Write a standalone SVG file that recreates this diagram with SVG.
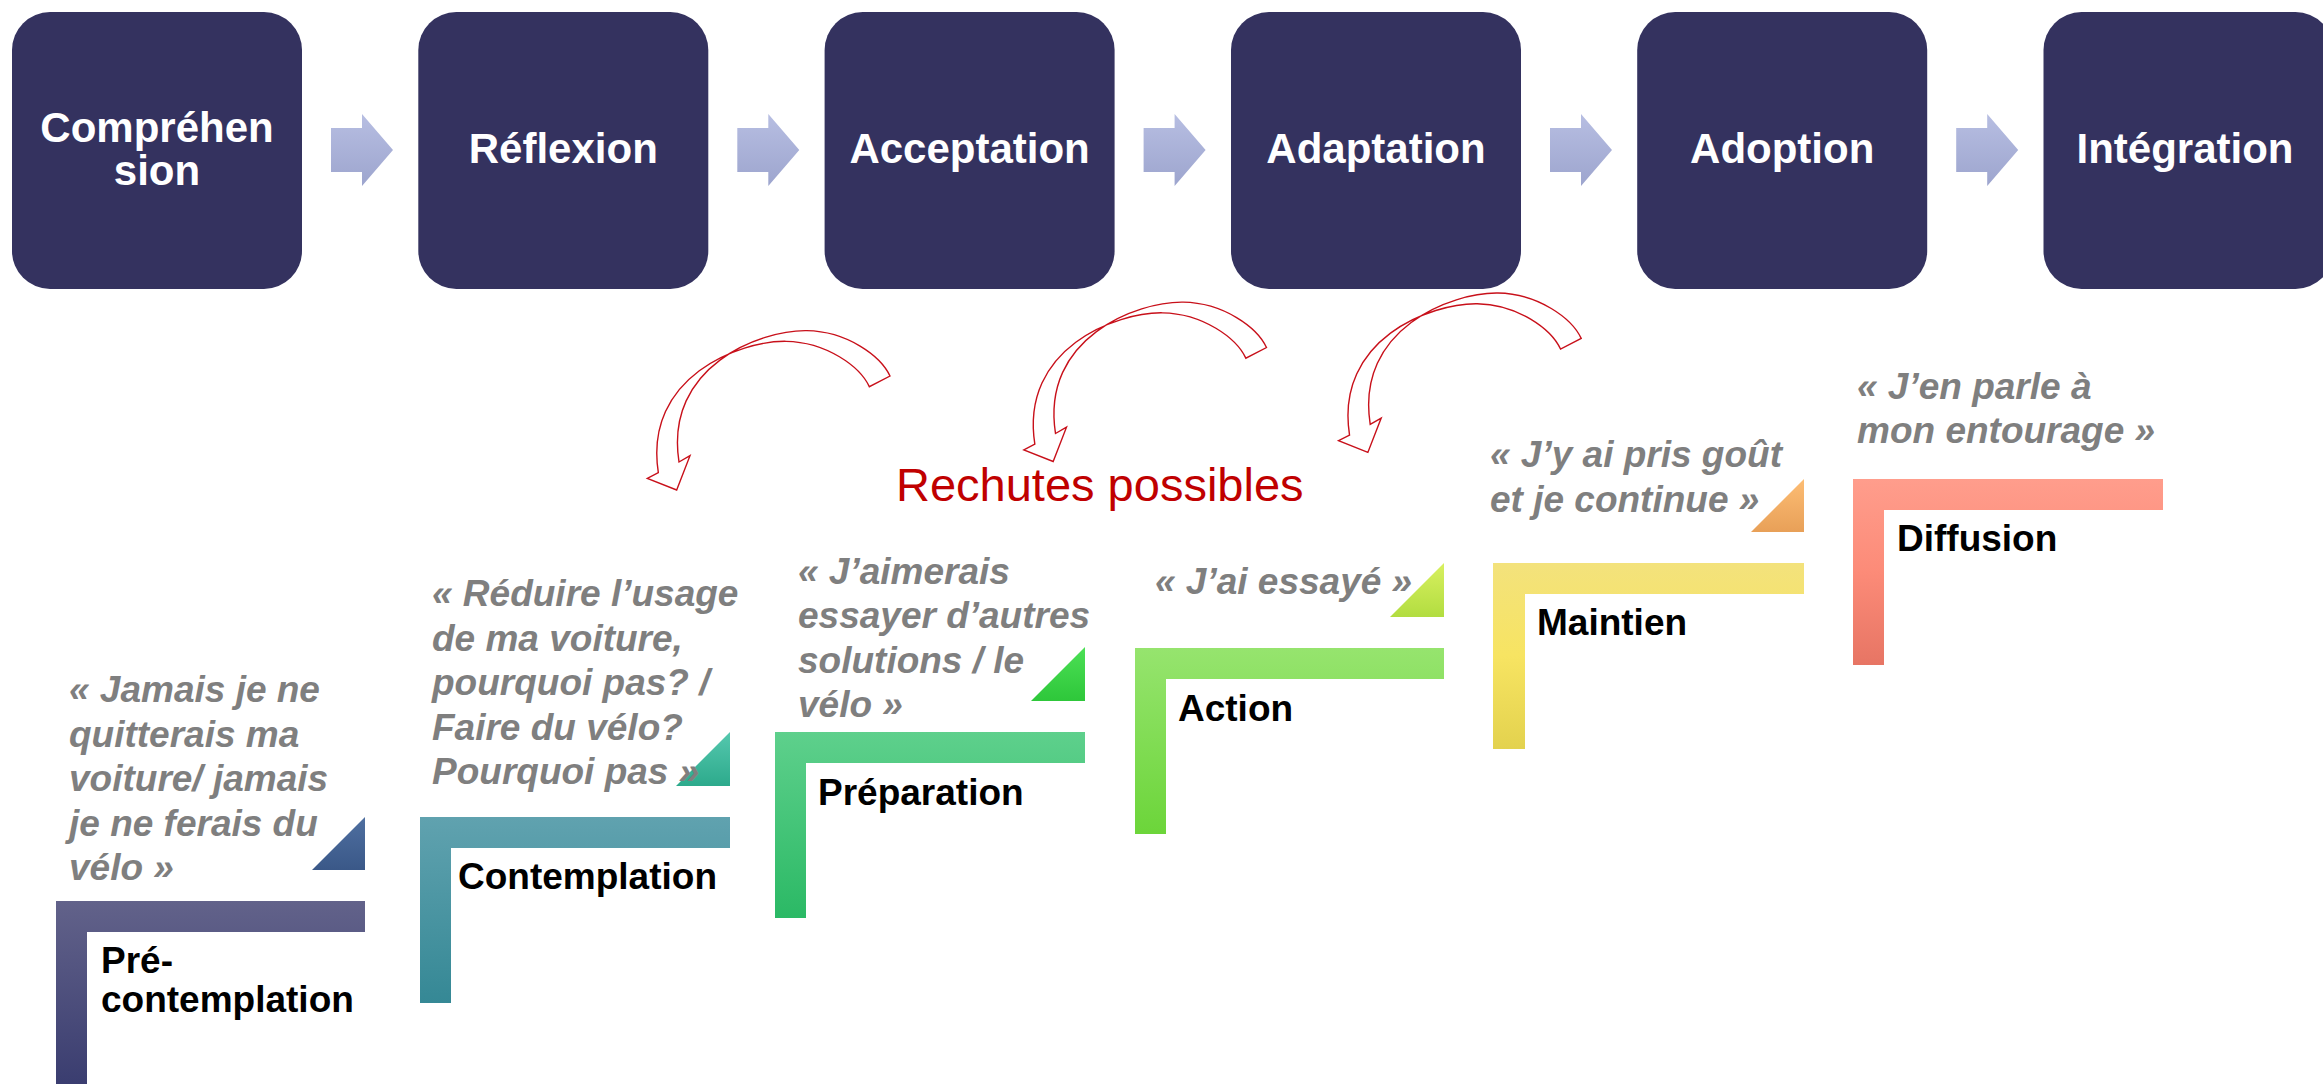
<svg xmlns="http://www.w3.org/2000/svg" width="2323" height="1084" viewBox="0 0 2323 1084">
<defs>
<style>
.box{fill:#34325F}
.bt{font-family:"Liberation Sans",Arial,sans-serif;font-weight:bold;font-size:42px;fill:#FFFFFF;text-anchor:middle}
.lab{font-family:"Liberation Sans",Arial,sans-serif;font-weight:bold;font-size:37px;fill:#000000}
.q{font-family:"Liberation Sans",Arial,sans-serif;font-weight:bold;font-style:italic;font-size:37px;fill:#7F7F7F}
.red{font-family:"Liberation Sans",Arial,sans-serif;font-size:47px;fill:#C00000}
.ra{fill:#FFFFFF;stroke:#C8101A;stroke-width:1.4;stroke-linejoin:miter}
</style>
<linearGradient id="gArr" x1="0" y1="0" x2="0" y2="1"><stop offset="0" stop-color="#B7BEE2"/><stop offset="1" stop-color="#9DA5CE"/></linearGradient>
<linearGradient id="g1" x1="0" y1="0" x2="0" y2="1"><stop offset="0" stop-color="#62628A"/><stop offset="1" stop-color="#393C6F"/></linearGradient>
<linearGradient id="t1" x1="0" y1="0" x2="0" y2="1"><stop offset="0" stop-color="#4F6FA0"/><stop offset="1" stop-color="#3A5888"/></linearGradient>
<linearGradient id="g2" x1="0" y1="0" x2="0" y2="1"><stop offset="0" stop-color="#60A2AF"/><stop offset="1" stop-color="#358895"/></linearGradient>
<linearGradient id="t2" x1="0" y1="0" x2="0" y2="1"><stop offset="0" stop-color="#55C8AE"/><stop offset="1" stop-color="#2DAA8C"/></linearGradient>
<linearGradient id="g3" x1="0" y1="0" x2="0" y2="1"><stop offset="0" stop-color="#5ED08C"/><stop offset="1" stop-color="#2BB965"/></linearGradient>
<linearGradient id="t3" x1="0" y1="0" x2="0" y2="1"><stop offset="0" stop-color="#4CE055"/><stop offset="1" stop-color="#2EC73A"/></linearGradient>
<linearGradient id="g4" x1="0" y1="0" x2="0" y2="1"><stop offset="0" stop-color="#96E46E"/><stop offset="1" stop-color="#6CD53A"/></linearGradient>
<linearGradient id="t4" x1="0" y1="0" x2="0" y2="1"><stop offset="0" stop-color="#D8F060"/><stop offset="1" stop-color="#B2DD40"/></linearGradient>
<linearGradient id="g5" x1="0" y1="0" x2="0" y2="1"><stop offset="0" stop-color="#F3E27C"/><stop offset="0.5" stop-color="#F7E462"/><stop offset="1" stop-color="#E3D24E"/></linearGradient>
<linearGradient id="t5" x1="0" y1="0" x2="0" y2="1"><stop offset="0" stop-color="#FDBD74"/><stop offset="1" stop-color="#E8A058"/></linearGradient>
<linearGradient id="g6" x1="0" y1="0" x2="0" y2="1"><stop offset="0" stop-color="#FF9D8C"/><stop offset="0.5" stop-color="#FC8B78"/><stop offset="1" stop-color="#E77564"/></linearGradient>
<path id="bigArrow" class="ra" d="M 869.33,386.67 C 860,366.67 826.67,342 786,341.33 C 740,340.67 643.33,376.67 658.33,472.67 L 647.33,478.33 L 676.67,490 L 690,455.67 L 679,462 C 664,366 760.67,330 806.67,330.67 C 847.33,331.33 880.67,356 890,376 Z"/>
<path id="smallArrow" fill="url(#gArr)" d="M 0,128 H 31 V 114 L 62,150 L 31,186 V 172 H 0 Z"/>
</defs>
<rect width="2323" height="1084" fill="#FFFFFF"/>

<g id="connectors">
<use href="#smallArrow" x="331" y="0"/>
<use href="#smallArrow" x="737.3" y="0"/>
<use href="#smallArrow" x="1143.6" y="0"/>
<use href="#smallArrow" x="1550" y="0"/>
<use href="#smallArrow" x="1956.2" y="0"/>
<use href="#bigArrow"/>
<use href="#bigArrow" x="376.5" y="-28.5"/>
<use href="#bigArrow" x="691.2" y="-37.6"/>
</g>

<g id="n-comprehension"><rect class="box" x="12" y="12" width="290" height="277" rx="38" ry="38"/><text class="bt" x="157" y="142">Compréhen</text><text class="bt" x="157" y="185">sion</text></g>
<g id="n-reflexion"><rect class="box" x="418.3" y="12" width="290" height="277" rx="38" ry="38"/><text class="bt" x="563.3" y="163">Réflexion</text></g>
<g id="n-acceptation"><rect class="box" x="824.6" y="12" width="290" height="277" rx="38" ry="38"/><text class="bt" x="969.6" y="163">Acceptation</text></g>
<g id="n-adaptation"><rect class="box" x="1231" y="12" width="290" height="277" rx="38" ry="38"/><text class="bt" x="1376" y="163">Adaptation</text></g>
<g id="n-adoption"><rect class="box" x="1637.2" y="12" width="290" height="277" rx="38" ry="38"/><text class="bt" x="1782.2" y="163">Adoption</text></g>
<g id="n-integration"><rect class="box" x="2043.5" y="12" width="290" height="277" rx="38" ry="38"/><text class="bt" x="2185" y="163">Intégration</text></g>

<g id="rechutes"><text class="red" x="896" y="501">Rechutes possibles</text></g>

<g id="n-precontemplation">
<path fill="url(#g1)" d="M56,901 H365 V932 H87 V1090 H56 Z"/>
<path fill="url(#t1)" d="M365,817 V870 H312 Z"/>
<text class="lab" x="101" y="973">Pré-</text>
<text class="lab" x="101" y="1012">contemplation</text>
<text class="q" x="69" y="702">« Jamais je ne</text>
<text class="q" x="69" y="746.5">quitterais ma</text>
<text class="q" x="69" y="791">voiture/ jamais</text>
<text class="q" x="69" y="835.5">je ne ferais du</text>
<text class="q" x="69" y="880">vélo »</text>
</g>

<g id="n-contemplation">
<path fill="url(#g2)" d="M420,817 H730 V848 H451 V1003 H420 Z"/>
<path fill="url(#t2)" d="M730,732 V786 H676 Z"/>
<text class="lab" x="458" y="889">Contemplation</text>
<text class="q" x="432" y="606">« Réduire l’usage</text>
<text class="q" x="432" y="650.5">de ma voiture,</text>
<text class="q" x="432" y="695">pourquoi pas? /</text>
<text class="q" x="432" y="739.5">Faire du vélo?</text>
<text class="q" x="432" y="784">Pourquoi pas »</text>
</g>

<g id="n-preparation">
<path fill="url(#g3)" d="M775,732 H1085 V763 H806 V918 H775 Z"/>
<path fill="url(#t3)" d="M1085,647 V701 H1031 Z"/>
<text class="lab" x="818" y="805">Préparation</text>
<text class="q" x="798" y="583.5">« J’aimerais</text>
<text class="q" x="798" y="628">essayer d’autres</text>
<text class="q" x="798" y="672.5">solutions / le</text>
<text class="q" x="798" y="717">vélo »</text>
</g>

<g id="n-action">
<path fill="url(#g4)" d="M1135,648 H1444 V679 H1166 V834 H1135 Z"/>
<path fill="url(#t4)" d="M1444,563 V617 H1390 Z"/>
<text class="lab" x="1178" y="721">Action</text>
<text class="q" x="1155" y="593.5">« J’ai essayé »</text>
</g>

<g id="n-maintien">
<path fill="url(#g5)" d="M1493,563 H1804 V594 H1525 V749 H1493 Z"/>
<path fill="url(#t5)" d="M1804,479 V532 H1751 Z"/>
<text class="lab" x="1537" y="635">Maintien</text>
<text class="q" x="1490" y="467">« J’y ai pris goût</text>
<text class="q" x="1490" y="511.5">et je continue »</text>
</g>

<g id="n-diffusion">
<path fill="url(#g6)" d="M1853,479 H2163 V510 H1884 V665 H1853 Z"/>
<text class="lab" x="1897" y="551">Diffusion</text>
<text class="q" x="1857" y="398.5">« J’en parle à</text>
<text class="q" x="1857" y="443">mon entourage »</text>
</g>
</svg>
